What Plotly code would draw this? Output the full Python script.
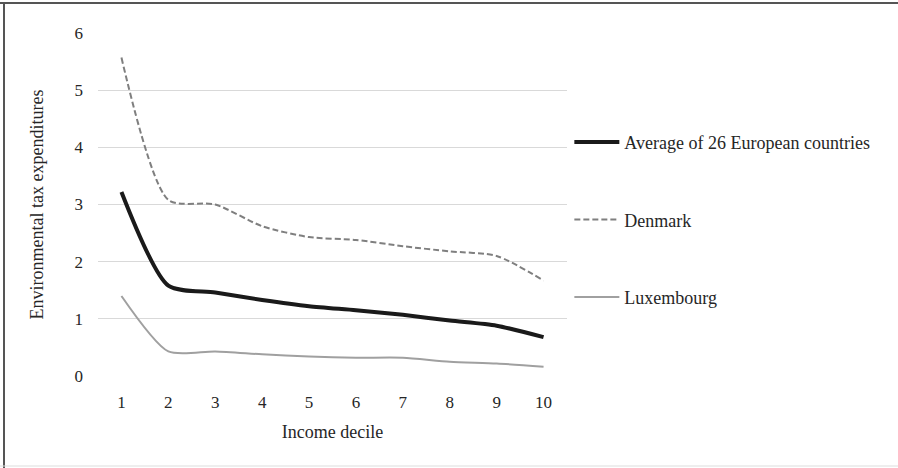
import plotly.graph_objects as go

deciles = [1, 2, 3, 4, 5, 6, 7, 8, 9, 10]
average = [3.22, 1.58, 1.46, 1.33, 1.22, 1.15, 1.07, 0.97, 0.88, 0.68]
denmark = [5.57, 3.08, 3.00, 2.62, 2.43, 2.38, 2.27, 2.18, 2.10, 1.67]
luxembourg = [1.40, 0.43, 0.43, 0.38, 0.34, 0.32, 0.32, 0.25, 0.22, 0.16]
y_ticks = [0, 1, 2, 3, 4, 5, 6]

FONT = "Liberation Serif, Times New Roman, serif"
TXT = "#262626"

fig = go.Figure()
fig.add_trace(go.Scatter(x=deciles, y=average, mode="lines", name="Average of 26 European countries",
                         line=dict(color="#1a1a1a", width=4, shape="spline", smoothing=0.7),
                         legendgroup="a"))
fig.add_trace(go.Scatter(x=deciles, y=denmark, mode="lines", name="Denmark",
                         line=dict(color="#7f7f7f", width=2, dash="6px,3px", shape="spline", smoothing=0.7),
                         legendgroup="b"))
fig.add_trace(go.Scatter(x=deciles, y=luxembourg, mode="lines", name="Luxembourg",
                         line=dict(color="#a0a0a0", width=2, shape="spline", smoothing=0.7),
                         legendgroup="c"))

fig.update_layout(
    width=898, height=468,
    margin=dict(l=98, r=331, t=33, b=92),
    paper_bgcolor="white", plot_bgcolor="white",
    font=dict(family=FONT, size=18, color=TXT),
    legend=dict(x=1.005, y=0.735, xanchor="left", yanchor="top",
                traceorder="grouped", tracegroupgap=51, itemwidth=45,
                font=dict(family=FONT, size=18, color=TXT),
                bgcolor="rgba(0,0,0,0)"),
    xaxis=dict(range=[0.5, 10.5], tickvals=deciles, showgrid=False, zeroline=False,
               showline=False, ticks="", tickfont=dict(size=17, color=TXT),
               ticklabelstandoff=14,
               title=dict(text="Income decile", font=dict(size=18, color=TXT), standoff=14)),
    yaxis=dict(range=[0, 6], tickvals=y_ticks, showgrid=True, gridcolor="#d9d9d9", gridwidth=1,
               zeroline=False, showline=False, ticks="", tickfont=dict(size=17, color=TXT),
               ticklabelstandoff=14,
               title=dict(text="Environmental tax expenditures", font=dict(size=18, color=TXT), standoff=26)),
)

# image frame
fig.add_shape(type="line", xref="paper", yref="paper", x0=-98/469, x1=1+331/469, y0=1+30/343, y1=1+30/343,
              line=dict(color="#555555", width=2))
fig.add_shape(type="line", xref="paper", yref="paper", x0=-94/469, x1=-94/469, y0=-92/343, y1=1+30/343,
              line=dict(color="#555555", width=2))
fig.add_shape(type="line", xref="paper", yref="paper", x0=-98/469, x1=1+331/469, y0=-90/343, y1=-90/343,
              line=dict(color="#dddddd", width=1))

fig.write_html("out.html", config={"displayModeBar": False},
               post_script="document.body.style.margin='0';")
